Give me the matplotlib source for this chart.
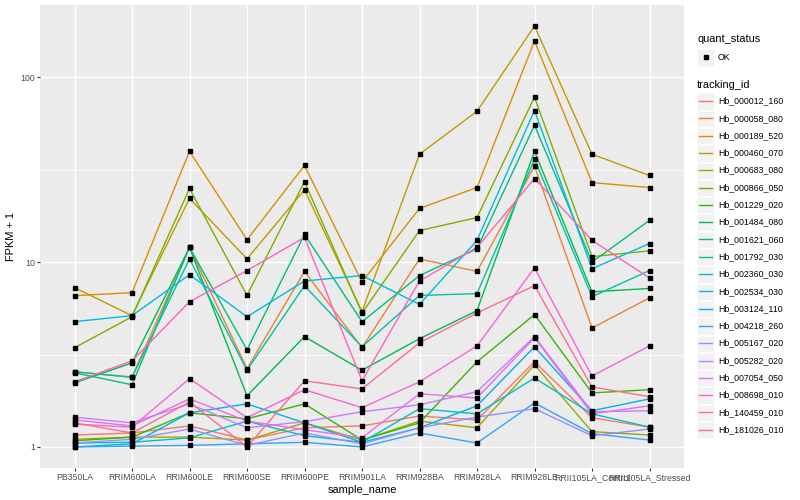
import matplotlib
matplotlib.use("Agg")
import matplotlib.pyplot as plt
from matplotlib.patches import Rectangle
from matplotlib.lines import Line2D
import numpy as np

plt.rcParams['font.family'] = ['Liberation Sans', 'DejaVu Sans']

samples = ['PB350LA', 'RRIM600LA', 'RRIM600LE', 'RRIM600SE', 'RRIM600PE', 'RRIM901LA',
           'RRIM928BA', 'RRIM928LA', 'RRIM928LE', 'RRII105LA_Control', 'RRII105LA_Stressed']

tracking_ids = ['Hb_000012_160', 'Hb_000058_080', 'Hb_000189_520', 'Hb_000460_070',
                'Hb_000683_080', 'Hb_000866_050', 'Hb_001229_020', 'Hb_001484_080',
                'Hb_001621_060', 'Hb_001792_030', 'Hb_002360_030', 'Hb_002534_030',
                'Hb_003124_110', 'Hb_004218_260', 'Hb_005167_020', 'Hb_005282_020',
                'Hb_007054_050', 'Hb_008698_010', 'Hb_140459_010', 'Hb_181026_010']

# ggplot hue palette, 20 levels
colors = ['#F8766D', '#EA8331', '#D89000', '#C09B00', '#A3A500', '#7CAE00', '#39B600',
          '#00BB4E', '#00BF7D', '#00C1A3', '#00BFC4', '#00BAE0', '#00B0F6', '#35A2FF',
          '#9590FF', '#C77CFF', '#E76BF3', '#FA62DB', '#FF62BC', '#FF6C91']

# FPKM + 1, one list per tracking_id, in sample order
hb_000012_160 = [1.16, 1.19, 1.30, 1.09, 1.27, 1.30, 1.47, 1.40, 2.89, 1.44, 1.28]
hb_000058_080 = [2.55, 2.39, 12.0, 2.65, 8.9, 3.44, 10.4, 8.9, 33.0, 4.4, 6.4]
hb_000189_520 = [6.58, 6.83, 39.7, 13.2, 33.3, 7.8, 19.5, 25.3, 157.0, 26.9, 25.3]
hb_000460_070 = [7.27, 5.13, 22.1, 10.4, 24.6, 5.4, 38.3, 65.4, 189.0, 38.3, 29.4]
hb_000683_080 = [1.10, 1.13, 1.13, 1.09, 1.35, 1.09, 1.38, 1.27, 2.78, 1.21, 1.16]
hb_000866_050 = [3.44, 5.06, 25.0, 6.6, 27.2, 5.3, 14.8, 17.4, 78.0, 10.7, 11.5]
hb_001229_020 = [1.08, 1.13, 1.53, 1.42, 1.71, 1.09, 1.35, 2.89, 5.2, 1.96, 2.04]
hb_001484_080 = [2.22, 2.85, 12.0, 1.89, 3.95, 2.6, 3.85, 5.46, 39.7, 6.9, 7.2]
hb_001621_060 = [2.52, 2.17, 12.0, 3.36, 14.1, 4.76, 8.45, 11.8, 55.0, 10.0, 16.8]
hb_001792_030 = [2.55, 2.38, 10.4, 2.6, 7.45, 3.48, 6.6, 6.75, 36.0, 6.5, 9.0]
hb_002360_030 = [1.05, 1.06, 1.12, 1.38, 1.15, 1.06, 1.61, 1.51, 2.36, 1.51, 1.28]
hb_002534_030 = [4.76, 5.13, 8.55, 5.06, 7.9, 8.45, 5.9, 13.1, 66.0, 9.2, 12.6]
hb_003124_110 = [1.0, 1.04, 1.53, 1.71, 1.35, 1.06, 1.27, 1.67, 3.48, 1.57, 1.82]
hb_004218_260 = [1.0, 1.01, 1.02, 1.04, 1.06, 1.0, 1.19, 1.05, 1.73, 1.18, 1.09]
hb_005167_020 = [1.05, 1.10, 1.25, 1.02, 1.19, 1.04, 1.27, 1.45, 1.61, 1.15, 1.25]
hb_005282_020 = [1.45, 1.35, 1.71, 1.27, 1.37, 1.55, 1.69, 1.99, 3.95, 1.55, 1.57]
hb_007054_050 = [1.40, 1.30, 1.82, 1.38, 1.24, 1.12, 1.94, 1.84, 3.9, 1.51, 1.67]
hb_008698_010 = [1.33, 1.28, 2.34, 1.44, 2.04, 1.63, 2.25, 3.52, 9.3, 2.42, 3.52]
hb_140459_010 = [2.25, 2.92, 6.1, 9.0, 13.6, 2.28, 7.9, 12.0, 28.3, 13.1, 8.2]
hb_181026_010 = [1.35, 1.19, 1.75, 1.0, 2.28, 2.06, 3.66, 5.3, 7.45, 2.11, 1.87]

series = [hb_000012_160, hb_000058_080, hb_000189_520, hb_000460_070, hb_000683_080,
          hb_000866_050, hb_001229_020, hb_001484_080, hb_001621_060, hb_001792_030,
          hb_002360_030, hb_002534_030, hb_003124_110, hb_004218_260, hb_005167_020,
          hb_005282_020, hb_007054_050, hb_008698_010, hb_140459_010, hb_181026_010]

W, H = 800, 500
fig = plt.figure(figsize=(8, 5), dpi=100)
ax = fig.add_axes([40 / W, 1 - 468 / H, 644 / W, 463 / H])
ax.set_facecolor('#EBEBEB')
for s in ax.spines.values():
    s.set_visible(False)

x = np.arange(len(samples))
for vals, c in zip(series, colors):
    ax.plot(x, vals, color=c, lw=1.0, zorder=3)
for vals in series:
    ax.plot(x, vals, 's', color='black', ms=2.3, mec='black', zorder=4)

ax.set_yscale('log')
allv = np.log10(np.concatenate([np.array(v) for v in series]))
lo, hi = allv.min(), allv.max()
pad = (hi - lo) * 0.05
ax.set_ylim(10 ** (lo - pad), 10 ** (hi + pad))
ax.set_xlim(-0.6, len(samples) - 0.4)

ax.set_yticks([1, 10, 100])
ax.set_yticklabels(['1', '10', '100'])
ax.yaxis.set_minor_locator(matplotlib.ticker.FixedLocator([10 ** 0.5, 10 ** 1.5]))
ax.yaxis.set_minor_formatter(matplotlib.ticker.NullFormatter())
ax.set_xticks(x)
ax.set_xticklabels(samples)
ax.tick_params(axis='both', which='major', length=2, width=0.8, color='#333333',
               labelsize=6.3, labelcolor='#4D4D4D', pad=1.5)
ax.tick_params(axis='y', which='minor', length=0)
ax.grid(True, which='major', color='white', lw=1.0, zorder=0)
ax.grid(True, which='minor', axis='y', color='white', lw=0.5, zorder=0)
ax.set_axisbelow(True)

ax.set_xlabel('sample_name', fontsize=7.9, labelpad=2)
ax.set_ylabel('FPKM + 1', fontsize=7.9, labelpad=3)

# legend, drawn by hand in ggplot style
def fx(px):
    return px / W

def fy(py):
    return 1 - py / H

kx, kw, kh = 697, 17, 17.3
fig.text(fx(kx), fy(39), 'quant_status', fontsize=7.9, va='center', ha='left')
fig.add_artist(Rectangle((fx(kx), fy(57 + kh / 2)), kw / W, (kh - 1) / H,
                         transform=fig.transFigure, facecolor='#F2F2F2', edgecolor='white', lw=0.5))
fig.add_artist(Line2D([fx(kx + kw / 2)], [fy(57)], marker='s', color='black', ms=2.3,
                      transform=fig.transFigure))
fig.text(fx(kx + 21), fy(57), 'OK', fontsize=6.3, va='center', ha='left')

fig.text(fx(kx), fy(85), 'tracking_id', fontsize=7.9, va='center', ha='left')
for i, (name, c) in enumerate(zip(tracking_ids, colors)):
    cy = 101 + kh * i
    fig.add_artist(Rectangle((fx(kx), fy(cy + kh / 2)), kw / W, (kh - 1) / H,
                             transform=fig.transFigure, facecolor='#F2F2F2', edgecolor='white', lw=0.5))
    fig.add_artist(Line2D([fx(kx + 2), fx(kx + kw - 2)], [fy(cy), fy(cy)], color=c, lw=1.0,
                          transform=fig.transFigure))
    fig.text(fx(kx + 21), fy(cy), name, fontsize=6.3, va='center', ha='left')

fig.savefig('out.png', dpi=100, facecolor='white')
